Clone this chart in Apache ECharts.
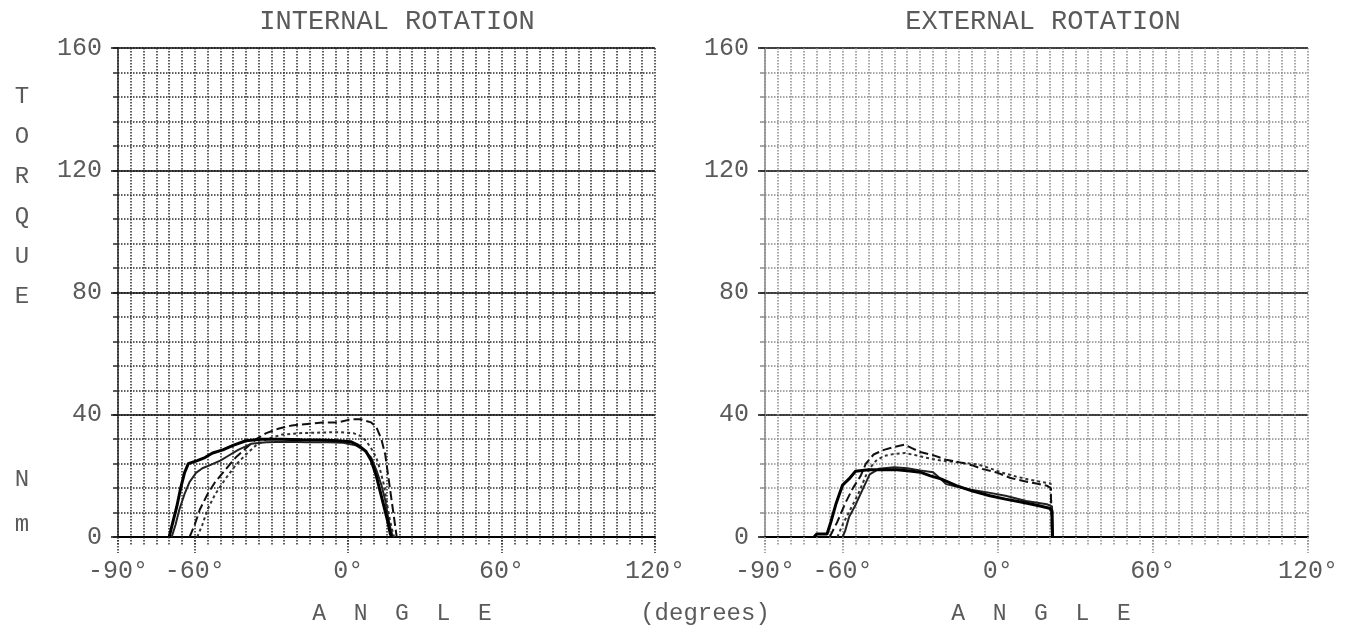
<!DOCTYPE html>
<html>
<head>
<meta charset="utf-8">
<script src="https://cdn.jsdelivr.net/npm/echarts@6/dist/echarts.min.js"></script>
<style>
html,body{margin:0;padding:0;background:#fff;}
#chart{width:1360px;height:631px;}
</style>
</head>
<body>
<div id="chart"></div>
<script>
// ---- data (angle in degrees, torque in Nm) ----
const panelTitles = ['INTERNAL ROTATION', 'EXTERNAL ROTATION'];
const xLabelValues = [-90, -60, 0, 60, 120];
const yLabelValues = [0, 40, 80, 120, 160];

const irCurveA = [[-70,0],[-68.5,5],[-67,10],[-65.5,16],[-64,21],[-62.5,24],[-59,25],[-56,26],[-53,27.5],[-49,28.5],[-45,30],[-40,31.5],[-34,32],[-26,32],[-18,31.8],[-10,31.7],[-4,31.5],[1,31.2],[4,30],[7,28],[9,25],[11,20],[12.5,15],[14,10],[15.5,5],[16.5,1],[17,0]];
const irCurveB = [[-69,0],[-67.5,4],[-66,9],[-64,14],[-62,18],[-59.5,21],[-57,22.5],[-54,23.5],[-50,25],[-47,26.5],[-43,28.5],[-38,30.5],[-32,31],[-24,31.2],[-16,31],[-8,31],[-2,30.8],[3,30],[6,28.5],[9,26],[11,22],[13,17],[14.5,12],[15.5,7],[16.5,3],[17.5,0]];
const irCurveC = [[-62,0],[-60,4],[-58,9],[-55,14],[-52,18],[-48,22],[-44,26],[-40,29],[-36,32],[-32,34],[-27,35.5],[-22,36.5],[-16,37],[-10,37.5],[-4,37.5],[1,38.5],[5,38.5],[9,37.5],[11,36],[13,32],[14.5,27],[15.5,21],[16.5,15],[17.5,9],[18.5,3],[19,0]];
const irCurveD = [[-59,0],[-57,4],[-55,9],[-52,14],[-48,19],[-44,23.5],[-40,27],[-36,30],[-32,32],[-26,33.5],[-18,34],[-10,34.2],[-4,34.3],[2,34],[5,33],[7,31.5],[9,29],[11,26],[12.5,22],[14,17],[15,12],[16,7],[17,3],[18,0]];

const erCurveE = [[-65,0],[-62,5],[-59,11],[-56,16],[-53,20],[-51,24],[-48,27],[-44,28.5],[-40,29.5],[-36,30.2],[-33,29],[-30,27.8],[-25,26.8],[-20,25.3],[-15,24.5],[-10,23.5],[-6,22.3],[0,21],[5,19.3],[10,18.3],[15,17.5],[19,16.8],[20.5,16],[21,0]];
const erCurveF = [[-62,0],[-60,4],[-57,9],[-54,14],[-52,18],[-50,22],[-47,25],[-44,26.5],[-40,27.2],[-36,27.5],[-32,26.8],[-28,26],[-24,25.3],[-20,24.8],[-14,24.3],[-8,23.8],[-3,22.5],[2,21],[7,19.8],[12,18.8],[17,18],[20.5,17.5],[21,0]];
const erCurveG = [[-71,0],[-70,1],[-66,1],[-64.5,5],[-62.5,11],[-60,17],[-57.5,19],[-55,21.5],[-50,22],[-44,22],[-39,22],[-34,21.6],[-30,21.2],[-26,20],[-22,19],[-16,16.8],[-10,15.1],[-3,13.5],[3,12.4],[10,11.3],[16,10.2],[20,9.4],[21,8.5],[21.2,0]];
const erCurveH = [[-60,0],[-59,2],[-57.5,6.5],[-55,10.5],[-52,16],[-49.5,20.5],[-46,22.3],[-40,22.8],[-35,22.5],[-30,21.8],[-25,21.2],[-22,19],[-20,17.3],[-12,15.7],[-4,14.6],[3,13.5],[11,11.8],[19,10.7],[21,10],[21.2,0]];

// ---- chart ----
const FONT = '"Liberation Mono", "DejaVu Sans Mono", monospace';
const TXT = '#5a5a5a';
const grids = [
  {left: 118, width: 537, top: 48, height: 489},
  {left: 765, width: 543, top: 48, height: 489}
];
const gridDot = ['#2a2a2a', '#8a8a8a'];

const xAxes = [], yAxes = [];
grids.forEach((g, i) => {
  xAxes.push({
    gridIndex: i, type: 'value', min: -90, max: 120, interval: 5,
    axisLine: {show: true, onZero: false, lineStyle: {color: '#000', width: 2}},
    axisTick: {show: true, customValues: xLabelValues, length: 16, lineStyle: {color: gridDot[i], type: 'dotted', width: 1.5}},
    axisLabel: {show: true, customValues: xLabelValues, formatter: v => v + '°', margin: 22,
      fontFamily: FONT, fontSize: 25, color: TXT},
    splitLine: {show: false}
  });
  xAxes.push({
    gridIndex: i, type: 'value', min: -90, max: 120, interval: 5, position: 'bottom',
    axisLine: {show: false, onZero: false},
    axisTick: {show: true, length: 9, lineStyle: {color: gridDot[i], type: 'dotted', width: 1.5}},
    axisLabel: {show: false},
    splitLine: {show: true, lineStyle: {color: gridDot[i], type: 'dotted', width: 1.5}}
  });
  yAxes.push({
    gridIndex: i, type: 'value', min: 0, max: 160, interval: 8,
    axisLine: {show: true, onZero: false, lineStyle: {color: gridDot[i], width: 1.5}},
    axisTick: {show: true, length: 5, lineStyle: {color: gridDot[i], width: 1.5}},
    axisLabel: {show: true, customValues: yLabelValues, margin: 16, fontFamily: FONT, fontSize: 25, color: TXT},
    splitLine: {show: true, lineStyle: {color: gridDot[i], type: 'dotted', width: 1.5}}
  });
  yAxes.push({
    gridIndex: i, type: 'value', min: 0, max: 160, interval: 40, position: 'left',
    axisLine: {show: false, onZero: false},
    axisTick: {show: true, length: 7, lineStyle: {color: '#111', width: 1.5}},
    axisLabel: {show: false},
    splitLine: {show: true, lineStyle: {color: '#111', width: 1.5}}
  });
});

function curve(data, grid, style) {
  return Object.assign({
    type: 'line', data: data, showSymbol: false, silent: true,
    xAxisIndex: grid * 2, yAxisIndex: grid * 2, z: 5
  }, style);
}
const solidDark = {lineStyle: {color: '#000', width: 3}};
const solidMid = {lineStyle: {color: '#222', width: 2}};
const dashed = {lineStyle: {color: '#111', width: 2, type: [9, 4]}};
const dotted = {lineStyle: {color: '#333', width: 2, type: [3, 3]}};

function t(text, left, top, size, extra) {
  return {text: text, left: left, top: top, textAlign: 'center',
    textStyle: Object.assign({fontFamily: FONT, fontWeight: 'normal', color: TXT, fontSize: size}, extra || {})};
}

const option = {
  backgroundColor: '#fff',
  animation: false,
  title: [
    t(panelTitles[0], 392, 3, 27),
    t(panelTitles[1], 1038, 3, 27),
    t('T\nO\nR\nQ\nU\nE', 17, 72, 24, {lineHeight: 40}),
    t('N\nm', 17, 452, 24, {lineHeight: 45}),
    t('A  N  G  L  E', 397, 597, 23),
    t('(degrees)', 700, 597, 24),
    t('A  N  G  L  E', 1036, 597, 23)
  ],
  grid: grids,
  xAxis: xAxes,
  yAxis: yAxes,
  series: [
    curve(irCurveD, 0, dotted),
    curve(irCurveC, 0, dashed),
    curve(irCurveB, 0, solidMid),
    curve(irCurveA, 0, solidDark),
    curve(erCurveF, 1, dotted),
    curve(erCurveE, 1, dashed),
    curve(erCurveH, 1, solidMid),
    curve(erCurveG, 1, solidDark)
  ]
};
const chart = echarts.init(document.getElementById('chart'), null, {renderer: 'canvas'});
chart.setOption(option);
</script>
</body>
</html>
